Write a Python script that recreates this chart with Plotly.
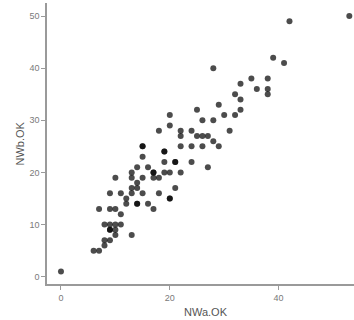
import plotly.graph_objects as go

nwa = [0, 6, 7, 8, 8, 9, 10, 13, 9, 9, 10, 8, 9, 10, 11, 11, 7, 9, 10, 17,
       12, 14, 14, 16, 12, 20, 20, 9, 11, 13, 15, 18, 13, 14, 21, 14, 10, 13,
       15, 17, 18, 13, 17, 17, 19, 20, 22, 14, 16, 27, 19, 21, 21, 24, 15, 19,
       19, 15, 15, 22, 24, 26, 29, 28, 22, 25, 26, 27, 18, 22, 24, 31, 20, 26,
       28, 20, 30, 32, 25, 33, 29, 33, 32, 38, 36, 38, 33, 35, 38, 28, 41, 39,
       42, 53]
nwb = [1, 5, 5, 6, 7, 7, 8, 8, 9, 9, 9, 10, 10, 10, 10, 12, 13, 13, 13, 13,
       14, 14, 14, 14, 15, 15, 15, 16, 16, 16, 16, 16, 17, 17, 17, 18, 19, 19,
       19, 19, 19, 20, 20, 20, 20, 20, 20, 21, 21, 21, 22, 22, 22, 22, 23, 24,
       24, 25, 25, 25, 25, 25, 25, 26, 27, 27, 27, 27, 28, 28, 28, 28, 29, 30,
       30, 31, 31, 31, 32, 32, 33, 34, 35, 35, 36, 36, 37, 38, 38, 40, 41, 42,
       49, 50]

x_ticks = [0, 20, 40]
y_ticks = [0, 10, 20, 30, 40, 50]

fig = go.Figure()
fig.add_trace(go.Scatter(
    x=nwa, y=nwb, mode="markers",
    marker=dict(size=6, color="rgba(0,0,0,0.7)", line=dict(width=0)),
    showlegend=False,
))

axis_common = dict(
    showgrid=False, zeroline=False, showline=True, linecolor="#9a9a9a", linewidth=1.5,
    ticks="outside", ticklen=4, tickwidth=1, tickcolor="#9a9a9a",
    tickfont=dict(family="Liberation Sans, Arial, sans-serif", size=9, color="#7a7a7a"),
)

fig.update_layout(
    width=354, height=320,
    margin=dict(l=47, r=0, t=3, b=36),
    plot_bgcolor="white", paper_bgcolor="white",
    xaxis=dict(range=[-2.57, 53.86], tickvals=x_ticks, **axis_common),
    yaxis=dict(range=[-1.4, 52.5], tickvals=y_ticks, **axis_common),
    annotations=[
        dict(text="NWa.OK", xref="paper", yref="paper", x=(205.7 - 47) / 307, y=-(311.7 - 284) / 281,
             showarrow=False, xanchor="center", yanchor="middle",
             font=dict(family="Liberation Sans, Arial, sans-serif", size=11, color="#555555")),
        dict(text="NWb.OK", xref="paper", yref="paper", x=-(47 - 19) / 307, y=0.5,
             showarrow=False, xanchor="center", yanchor="middle", textangle=-90,
             font=dict(family="Liberation Sans, Arial, sans-serif", size=11, color="#555555")),
    ],
)

fig.write_html("out.html")
